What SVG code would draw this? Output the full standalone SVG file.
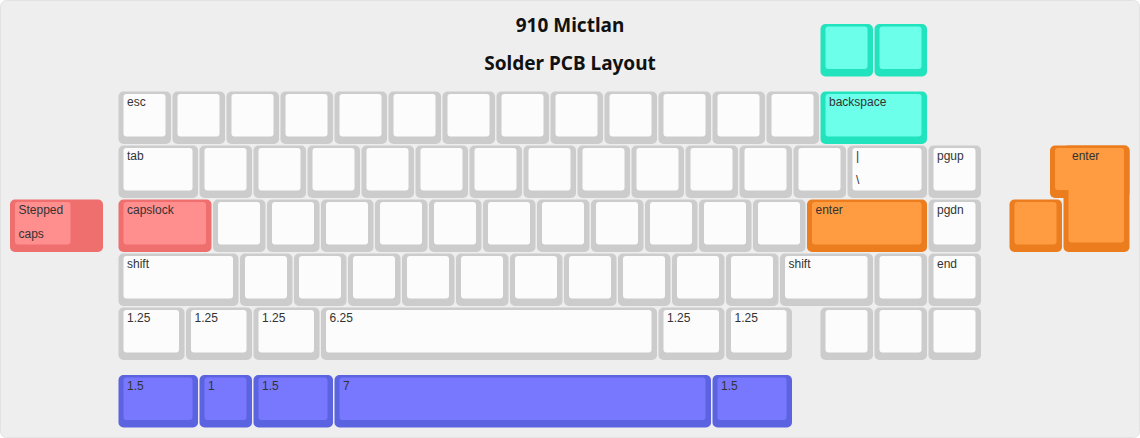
<svg xmlns="http://www.w3.org/2000/svg" width="1140" height="438" viewBox="0 0 1140 438">
<style>
.go{fill:#cccccc}.gi{fill:#fcfcfc}
.to{fill:#21e3bd}.ti{fill:#6cffe9}
.oo{fill:#eb7d1f}.oi{fill:#ff9b40}
.ro{fill:#ef6e6e}.ri{fill:#ff8e8e}
.bo{fill:#5c63e0}.bi{fill:#7878ff}
.o{rx:5px;ry:5px}.i{rx:3px;ry:3px}
.lbl{font-family:"Liberation Sans",Arial,sans-serif;font-size:12px;fill:#333}
.title{font-family:"Noto Sans","Liberation Sans",sans-serif;font-weight:bold;font-size:19px;fill:#111;text-anchor:middle}
</style>
<rect x="0.5" y="0.5" width="1139" height="437" rx="6" fill="#eeeeee" stroke="#e2e2e2"/>
<g id="titles">
<text class="title" x="570" y="32">910 Mictlan</text>
<text class="title" x="570" y="69.5">Solder PCB Layout</text>
</g>
<g id="connectors"/>
<!-- top teal keys -->
<g id="teal-1"><rect class="to o" x="820.5" y="24" width="52.5" height="52.5"/><rect class="ti i" x="825.5" y="26.5" width="42" height="42.5"/></g>
<g id="teal-2"><rect class="to o" x="874.5" y="24" width="52.5" height="52.5"/><rect class="ti i" x="879.5" y="26.5" width="42" height="42.5"/></g>
<!-- row 0 -->
<g id="key-esc"><rect class="go o" x="118.5" y="91.5" width="52.5" height="52.5"/><rect class="gi i" x="123.5" y="94" width="42" height="42.5"/><text class="lbl" x="127" y="106">esc</text></g>
<g id="key-r0-1"><rect class="go o" x="172.5" y="91.5" width="52.5" height="52.5"/><rect class="gi i" x="177.5" y="94" width="42" height="42.5"/></g>
<g id="key-r0-2"><rect class="go o" x="226.5" y="91.5" width="52.5" height="52.5"/><rect class="gi i" x="231.5" y="94" width="42" height="42.5"/></g>
<g id="key-r0-3"><rect class="go o" x="280.5" y="91.5" width="52.5" height="52.5"/><rect class="gi i" x="285.5" y="94" width="42" height="42.5"/></g>
<g id="key-r0-4"><rect class="go o" x="334.5" y="91.5" width="52.5" height="52.5"/><rect class="gi i" x="339.5" y="94" width="42" height="42.5"/></g>
<g id="key-r0-5"><rect class="go o" x="388.5" y="91.5" width="52.5" height="52.5"/><rect class="gi i" x="393.5" y="94" width="42" height="42.5"/></g>
<g id="key-r0-6"><rect class="go o" x="442.5" y="91.5" width="52.5" height="52.5"/><rect class="gi i" x="447.5" y="94" width="42" height="42.5"/></g>
<g id="key-r0-7"><rect class="go o" x="496.5" y="91.5" width="52.5" height="52.5"/><rect class="gi i" x="501.5" y="94" width="42" height="42.5"/></g>
<g id="key-r0-8"><rect class="go o" x="550.5" y="91.5" width="52.5" height="52.5"/><rect class="gi i" x="555.5" y="94" width="42" height="42.5"/></g>
<g id="key-r0-9"><rect class="go o" x="604.5" y="91.5" width="52.5" height="52.5"/><rect class="gi i" x="609.5" y="94" width="42" height="42.5"/></g>
<g id="key-r0-10"><rect class="go o" x="658.5" y="91.5" width="52.5" height="52.5"/><rect class="gi i" x="663.5" y="94" width="42" height="42.5"/></g>
<g id="key-r0-11"><rect class="go o" x="712.5" y="91.5" width="52.5" height="52.5"/><rect class="gi i" x="717.5" y="94" width="42" height="42.5"/></g>
<g id="key-r0-12"><rect class="go o" x="766.5" y="91.5" width="52.5" height="52.5"/><rect class="gi i" x="771.5" y="94" width="42" height="42.5"/></g>
<g id="key-backspace"><rect class="to o" x="820.5" y="91.5" width="106.5" height="52.5"/><rect class="ti i" x="825.5" y="94" width="96" height="42.5"/><text class="lbl" x="829" y="106">backspace</text></g>
<!-- row 1 -->
<g id="key-tab"><rect class="go o" x="118.5" y="145.5" width="79.5" height="52.5"/><rect class="gi i" x="123.5" y="148" width="69" height="42.5"/><text class="lbl" x="127" y="160">tab</text></g>
<g id="key-r1-1"><rect class="go o" x="199.5" y="145.5" width="52.5" height="52.5"/><rect class="gi i" x="204.5" y="148" width="42" height="42.5"/></g>
<g id="key-r1-2"><rect class="go o" x="253.5" y="145.5" width="52.5" height="52.5"/><rect class="gi i" x="258.5" y="148" width="42" height="42.5"/></g>
<g id="key-r1-3"><rect class="go o" x="307.5" y="145.5" width="52.5" height="52.5"/><rect class="gi i" x="312.5" y="148" width="42" height="42.5"/></g>
<g id="key-r1-4"><rect class="go o" x="361.5" y="145.5" width="52.5" height="52.5"/><rect class="gi i" x="366.5" y="148" width="42" height="42.5"/></g>
<g id="key-r1-5"><rect class="go o" x="415.5" y="145.5" width="52.5" height="52.5"/><rect class="gi i" x="420.5" y="148" width="42" height="42.5"/></g>
<g id="key-r1-6"><rect class="go o" x="469.5" y="145.5" width="52.5" height="52.5"/><rect class="gi i" x="474.5" y="148" width="42" height="42.5"/></g>
<g id="key-r1-7"><rect class="go o" x="523.5" y="145.5" width="52.5" height="52.5"/><rect class="gi i" x="528.5" y="148" width="42" height="42.5"/></g>
<g id="key-r1-8"><rect class="go o" x="577.5" y="145.5" width="52.5" height="52.5"/><rect class="gi i" x="582.5" y="148" width="42" height="42.5"/></g>
<g id="key-r1-9"><rect class="go o" x="631.5" y="145.5" width="52.5" height="52.5"/><rect class="gi i" x="636.5" y="148" width="42" height="42.5"/></g>
<g id="key-r1-10"><rect class="go o" x="685.5" y="145.5" width="52.5" height="52.5"/><rect class="gi i" x="690.5" y="148" width="42" height="42.5"/></g>
<g id="key-r1-11"><rect class="go o" x="739.5" y="145.5" width="52.5" height="52.5"/><rect class="gi i" x="744.5" y="148" width="42" height="42.5"/></g>
<g id="key-r1-12"><rect class="go o" x="793.5" y="145.5" width="52.5" height="52.5"/><rect class="gi i" x="798.5" y="148" width="42" height="42.5"/></g>
<g id="key-pipe"><rect class="go o" x="847.5" y="145.5" width="79.5" height="52.5"/><rect class="gi i" x="852.5" y="148" width="69" height="42.5"/><text class="lbl" x="856" y="160">|</text><text class="lbl" x="856" y="184">\</text></g>
<g id="key-pgup"><rect class="go o" x="928.5" y="145.5" width="52.5" height="52.5"/><rect class="gi i" x="933.5" y="148" width="42" height="42.5"/><text class="lbl" x="937" y="160">pgup</text></g>
<g id="key-iso-enter"><rect class="oo o" x="1050" y="145.5" width="79.5" height="52.5"/><rect class="oo o" x="1063.5" y="145.5" width="66" height="106.5"/><rect class="oi i" x="1055" y="148" width="69" height="42"/><rect class="oi i" x="1068.5" y="148" width="55.5" height="94.5"/><text class="lbl" x="1072" y="160">enter</text></g>
<!-- row 2 -->
<g id="key-stepped-caps"><rect class="ro o" x="10" y="199.5" width="93" height="52.5"/><rect class="ri i" x="15" y="202" width="55.5" height="42.5"/><text class="lbl" x="18.5" y="214">Stepped</text><text class="lbl" x="18.5" y="238">caps</text></g>
<g id="key-capslock"><rect class="ro o" x="118.5" y="199.5" width="93" height="52.5"/><rect class="ri i" x="123.5" y="202" width="82.5" height="42.5"/><text class="lbl" x="127" y="214">capslock</text></g>
<g id="key-r2-1"><rect class="go o" x="213" y="199.5" width="52.5" height="52.5"/><rect class="gi i" x="218" y="202" width="42" height="42.5"/></g>
<g id="key-r2-2"><rect class="go o" x="267" y="199.5" width="52.5" height="52.5"/><rect class="gi i" x="272" y="202" width="42" height="42.5"/></g>
<g id="key-r2-3"><rect class="go o" x="321" y="199.5" width="52.5" height="52.5"/><rect class="gi i" x="326" y="202" width="42" height="42.5"/></g>
<g id="key-r2-4"><rect class="go o" x="375" y="199.5" width="52.5" height="52.5"/><rect class="gi i" x="380" y="202" width="42" height="42.5"/></g>
<g id="key-r2-5"><rect class="go o" x="429" y="199.5" width="52.5" height="52.5"/><rect class="gi i" x="434" y="202" width="42" height="42.5"/></g>
<g id="key-r2-6"><rect class="go o" x="483" y="199.5" width="52.5" height="52.5"/><rect class="gi i" x="488" y="202" width="42" height="42.5"/></g>
<g id="key-r2-7"><rect class="go o" x="537" y="199.5" width="52.5" height="52.5"/><rect class="gi i" x="542" y="202" width="42" height="42.5"/></g>
<g id="key-r2-8"><rect class="go o" x="591" y="199.5" width="52.5" height="52.5"/><rect class="gi i" x="596" y="202" width="42" height="42.5"/></g>
<g id="key-r2-9"><rect class="go o" x="645" y="199.5" width="52.5" height="52.5"/><rect class="gi i" x="650" y="202" width="42" height="42.5"/></g>
<g id="key-r2-10"><rect class="go o" x="699" y="199.5" width="52.5" height="52.5"/><rect class="gi i" x="704" y="202" width="42" height="42.5"/></g>
<g id="key-r2-11"><rect class="go o" x="753" y="199.5" width="52.5" height="52.5"/><rect class="gi i" x="758" y="202" width="42" height="42.5"/></g>
<g id="key-enter"><rect class="oo o" x="807" y="199.5" width="120" height="52.5"/><rect class="oi i" x="812" y="202" width="109.5" height="42.5"/><text class="lbl" x="815.5" y="214">enter</text></g>
<g id="key-pgdn"><rect class="go o" x="928.5" y="199.5" width="52.5" height="52.5"/><rect class="gi i" x="933.5" y="202" width="42" height="42.5"/><text class="lbl" x="937" y="214">pgdn</text></g>
<g id="key-orange-1u"><rect class="oo o" x="1009.5" y="199.5" width="52.5" height="52.5"/><rect class="oi i" x="1014.5" y="202" width="42" height="42.5"/></g>
<!-- row 3 -->
<g id="key-lshift"><rect class="go o" x="118.5" y="253.5" width="120" height="52.5"/><rect class="gi i" x="123.5" y="256" width="109.5" height="42.5"/><text class="lbl" x="127" y="268">shift</text></g>
<g id="key-r3-1"><rect class="go o" x="240" y="253.5" width="52.5" height="52.5"/><rect class="gi i" x="245" y="256" width="42" height="42.5"/></g>
<g id="key-r3-2"><rect class="go o" x="294" y="253.5" width="52.5" height="52.5"/><rect class="gi i" x="299" y="256" width="42" height="42.5"/></g>
<g id="key-r3-3"><rect class="go o" x="348" y="253.5" width="52.5" height="52.5"/><rect class="gi i" x="353" y="256" width="42" height="42.5"/></g>
<g id="key-r3-4"><rect class="go o" x="402" y="253.5" width="52.5" height="52.5"/><rect class="gi i" x="407" y="256" width="42" height="42.5"/></g>
<g id="key-r3-5"><rect class="go o" x="456" y="253.5" width="52.5" height="52.5"/><rect class="gi i" x="461" y="256" width="42" height="42.5"/></g>
<g id="key-r3-6"><rect class="go o" x="510" y="253.5" width="52.5" height="52.5"/><rect class="gi i" x="515" y="256" width="42" height="42.5"/></g>
<g id="key-r3-7"><rect class="go o" x="564" y="253.5" width="52.5" height="52.5"/><rect class="gi i" x="569" y="256" width="42" height="42.5"/></g>
<g id="key-r3-8"><rect class="go o" x="618" y="253.5" width="52.5" height="52.5"/><rect class="gi i" x="623" y="256" width="42" height="42.5"/></g>
<g id="key-r3-9"><rect class="go o" x="672" y="253.5" width="52.5" height="52.5"/><rect class="gi i" x="677" y="256" width="42" height="42.5"/></g>
<g id="key-r3-10"><rect class="go o" x="726" y="253.5" width="52.5" height="52.5"/><rect class="gi i" x="731" y="256" width="42" height="42.5"/></g>
<g id="key-rshift"><rect class="go o" x="780" y="253.5" width="93" height="52.5"/><rect class="gi i" x="785" y="256" width="82.5" height="42.5"/><text class="lbl" x="788.5" y="268">shift</text></g>
<g id="key-r3-12"><rect class="go o" x="874.5" y="253.5" width="52.5" height="52.5"/><rect class="gi i" x="879.5" y="256" width="42" height="42.5"/></g>
<g id="key-end"><rect class="go o" x="928.5" y="253.5" width="52.5" height="52.5"/><rect class="gi i" x="933.5" y="256" width="42" height="42.5"/><text class="lbl" x="937" y="268">end</text></g>
<!-- row 4 -->
<g id="key-r4-1"><rect class="go o" x="118.5" y="307.5" width="66" height="52.5"/><rect class="gi i" x="123.5" y="310" width="55.5" height="42.5"/><text class="lbl" x="127" y="322">1.25</text></g>
<g id="key-r4-2"><rect class="go o" x="186" y="307.5" width="66" height="52.5"/><rect class="gi i" x="191" y="310" width="55.5" height="42.5"/><text class="lbl" x="194.5" y="322">1.25</text></g>
<g id="key-r4-3"><rect class="go o" x="253.5" y="307.5" width="66" height="52.5"/><rect class="gi i" x="258.5" y="310" width="55.5" height="42.5"/><text class="lbl" x="262" y="322">1.25</text></g>
<g id="key-space-625"><rect class="go o" x="321" y="307.5" width="336" height="52.5"/><rect class="gi i" x="326" y="310" width="325.5" height="42.5"/><text class="lbl" x="329.5" y="322">6.25</text></g>
<g id="key-r4-5"><rect class="go o" x="658.5" y="307.5" width="66" height="52.5"/><rect class="gi i" x="663.5" y="310" width="55.5" height="42.5"/><text class="lbl" x="667" y="322">1.25</text></g>
<g id="key-r4-6"><rect class="go o" x="726" y="307.5" width="66" height="52.5"/><rect class="gi i" x="731" y="310" width="55.5" height="42.5"/><text class="lbl" x="734.5" y="322">1.25</text></g>
<g id="key-r4-7"><rect class="go o" x="820.5" y="307.5" width="52.5" height="52.5"/><rect class="gi i" x="825.5" y="310" width="42" height="42.5"/></g>
<g id="key-r4-8"><rect class="go o" x="874.5" y="307.5" width="52.5" height="52.5"/><rect class="gi i" x="879.5" y="310" width="42" height="42.5"/></g>
<g id="key-r4-9"><rect class="go o" x="928.5" y="307.5" width="52.5" height="52.5"/><rect class="gi i" x="933.5" y="310" width="42" height="42.5"/></g>
<!-- blue row -->
<g id="key-b1"><rect class="bo o" x="118.5" y="375" width="79.5" height="52.5"/><rect class="bi i" x="123.5" y="377.5" width="69" height="42.5"/><text class="lbl" x="127" y="389.5">1.5</text></g>
<g id="key-b2"><rect class="bo o" x="199.5" y="375" width="52.5" height="52.5"/><rect class="bi i" x="204.5" y="377.5" width="42" height="42.5"/><text class="lbl" x="208" y="389.5">1</text></g>
<g id="key-b3"><rect class="bo o" x="253.5" y="375" width="79.5" height="52.5"/><rect class="bi i" x="258.5" y="377.5" width="69" height="42.5"/><text class="lbl" x="262" y="389.5">1.5</text></g>
<g id="key-b4"><rect class="bo o" x="334.5" y="375" width="376.5" height="52.5"/><rect class="bi i" x="339.5" y="377.5" width="366" height="42.5"/><text class="lbl" x="343" y="389.5">7</text></g>
<g id="key-b5"><rect class="bo o" x="712.5" y="375" width="79.5" height="52.5"/><rect class="bi i" x="717.5" y="377.5" width="69" height="42.5"/><text class="lbl" x="721" y="389.5">1.5</text></g>
</svg>
